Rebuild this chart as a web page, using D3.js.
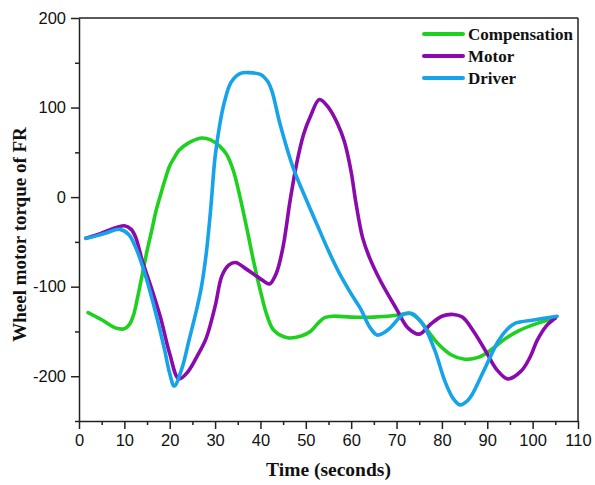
<!DOCTYPE html>
<html>
<head>
<meta charset="utf-8">
<script src="https://cdn.jsdelivr.net/npm/d3@7"></script>
<style>
  html, body { margin: 0; padding: 0; background: #fff; }
  svg { display: block; }
</style>
</head>
<body>
<svg id="chart" width="595" height="485"></svg>
<script>
// Time samples (seconds) and torque values for each series
const compensation = [
  [2,-129],[5,-137],[8,-146],[10,-147],[11,-143],[12,-132],[13,-110],[14,-85],[15,-60],
  [16,-38],[17,-15],[18,3],[19,20],[20,35],[21,44],[22,52],[24,60],[27,66],[29,64],
  [31,57],[32.5,48],[34,30],[35.5,0],[37,-35],[38.5,-72],[40,-105],[41.5,-133],[43,-149],
  [46,-157],[49,-155],[51,-150],[52.5,-142],[54,-135],[56,-133],[60,-134],[65,-134],
  [70,-132],[73,-130],[75,-137],[77,-150],[79,-163],[82,-176],[85,-181],[88,-179],
  [91,-170],[94,-158],[97,-149],[101,-141],[105,-135]
];
const motor = [
  [1.5,-46],[4,-42],[7,-36],[10,-32],[11.5,-36],[12.5,-45],[14,-72],[16,-102],[18,-135],
  [20,-175],[22,-203],[24,-195],[26,-178],[28,-158],[30,-122],[31.5,-88],[33,-76],
  [34.5,-73],[36.5,-79],[38.5,-86],[40.5,-93],[42,-97],[43.5,-85],[45,-55],[46.5,-5],
  [48,38],[49.5,70],[51,90],[53,109],[55,100],[57,82],[58.5,62],[60,28],[61,-5],
  [62.5,-45],[64,-67],[66.5,-94],[70,-125],[72.5,-146],[75,-153],[77.5,-142],[80,-133],
  [82.5,-131],[84.5,-134],[87,-150],[90,-175],[92,-192],[94.5,-203],[97.5,-194],
  [99.5,-178],[101,-160],[103,-144],[105,-135]
];
const driver = [
  [1.5,-46],[4,-43],[6,-40],[9,-36],[11,-42],[12.8,-60],[14.8,-90],[17,-131],[18.8,-169],
  [20,-197],[21,-211],[22.7,-191],[24.2,-161],[26,-124],[27,-100],[28,-65],[29,-15],
  [30,45],[31,80],[32,105],[33.5,128],[35.5,138],[37.5,139],[40,137],[41.5,130],
  [42.5,119],[44.3,82],[47.2,33],[50.2,-4],[53.1,-38],[55,-60],[57.5,-86],[60,-108],
  [62,-124],[64.2,-146],[65.7,-154],[67,-152],[68.6,-146],[71.5,-131],[73.4,-130],
  [75,-137],[76.3,-146],[78.5,-172],[80.7,-206],[82.5,-225],[84,-232],[85.5,-228],
  [86.6,-221],[89.5,-191],[92.4,-161],[94.5,-147],[96.1,-141],[100.5,-137],[105.4,-133]
];

const seriesNames = ["Compensation", "Motor", "Driver"];
const seriesColors = ["#1fd11f", "#8b0aad", "#17a3ea"];
const seriesData = [compensation, motor, driver];

const xTicks = [0,10,20,30,40,50,60,70,80,90,100,110];
const yTicks = [-200,-100,0,100,200];

const svg = d3.select("#chart");
const margin = { left: 79, top: 18, right: 17, bottom: 64 };
const W = 595, H = 485;
const x = d3.scaleLinear().domain([0, 110]).range([margin.left, W - margin.right]);
const y = d3.scaleLinear().domain([-250, 200]).range([H - margin.bottom, margin.top]);

const axisColor = "#222";
const tickFont = "'Liberation Sans', Arial, sans-serif";
const labelFont = "'Liberation Serif', 'Times New Roman', serif";
const plainNumber = d => String(d);   // keeps an ASCII hyphen for negatives

// Frame: top and right borders
svg.append("line")
  .attr("x1", x(0)).attr("x2", x(110)).attr("y1", y(200)).attr("y2", y(200))
  .attr("stroke", axisColor).attr("stroke-width", 1.5);
svg.append("line")
  .attr("x1", x(110)).attr("x2", x(110)).attr("y1", y(200)).attr("y2", y(-250))
  .attr("stroke", axisColor).attr("stroke-width", 1.5);

// Bottom axis: major and minor ticks
const xAxis = svg.append("g")
  .attr("transform", `translate(0,${y(-250)})`)
  .call(d3.axisBottom(x).tickValues(xTicks).tickFormat(plainNumber)
    .tickSize(8).tickPadding(5).tickSizeOuter(0));
const xMinor = svg.append("g")
  .attr("transform", `translate(0,${y(-250)})`)
  .call(d3.axisBottom(x).tickValues(d3.range(5, 110, 10)).tickSize(4).tickFormat("").tickSizeOuter(0));
xMinor.select(".domain").remove();

// Left axis: major and minor ticks
const yAxis = svg.append("g")
  .attr("transform", `translate(${x(0)},0)`)
  .call(d3.axisLeft(y).tickValues(yTicks).tickFormat(plainNumber)
    .tickSize(8).tickPadding(5).tickSizeOuter(0));
const yMinor = svg.append("g")
  .attr("transform", `translate(${x(0)},0)`)
  .call(d3.axisLeft(y).tickValues([-250,-150,-50,50,150]).tickSize(4).tickFormat("").tickSizeOuter(0));
yMinor.select(".domain").remove();

[xAxis, xMinor, yAxis, yMinor].forEach(g => {
  g.selectAll("path, line").attr("stroke", axisColor).attr("stroke-width", 1.5);
  g.selectAll("text").attr("fill", "#111").style("font-family", tickFont).style("font-size", "16.5px");
});

// Series lines
const line = d3.line()
  .x(d => x(d[0]))
  .y(d => y(d[1]))
  .curve(d3.curveCatmullRom.alpha(0.5));

seriesData.forEach((data, i) => {
  svg.append("path")
    .datum(data)
    .attr("fill", "none")
    .attr("stroke", seriesColors[i])
    .attr("stroke-width", 3.6)
    .attr("stroke-linejoin", "round")
    .attr("stroke-linecap", "round")
    .attr("d", line);
});

// Legend
const legend = svg.append("g").attr("transform", "translate(424,34)");
seriesNames.forEach((name, i) => {
  const row = legend.append("g").attr("transform", `translate(0,${i * 22})`);
  row.append("line")
    .attr("x1", 0).attr("x2", 39).attr("y1", 0).attr("y2", 0)
    .attr("stroke", seriesColors[i]).attr("stroke-width", 4).attr("stroke-linecap", "round");
  row.append("text")
    .attr("x", 44).attr("y", 6)
    .style("font-family", labelFont).style("font-weight", "bold").style("font-size", "17px")
    .attr("fill", "#111")
    .text(name);
});

// Axis titles
svg.append("text")
  .attr("x", (x(0) + x(110)) / 2).attr("y", 476)
  .attr("text-anchor", "middle")
  .style("font-family", labelFont).style("font-weight", "bold").style("font-size", "19.5px")
  .attr("fill", "#111")
  .text("Time (seconds)");

svg.append("text")
  .attr("transform", `translate(26,${(y(200) + y(-250)) / 2 + 15}) rotate(-90)`)
  .attr("text-anchor", "middle")
  .style("font-family", labelFont).style("font-weight", "bold").style("font-size", "19px")
  .attr("fill", "#111")
  .text("Wheel motor torque of FR");
</script>
</body>
</html>
